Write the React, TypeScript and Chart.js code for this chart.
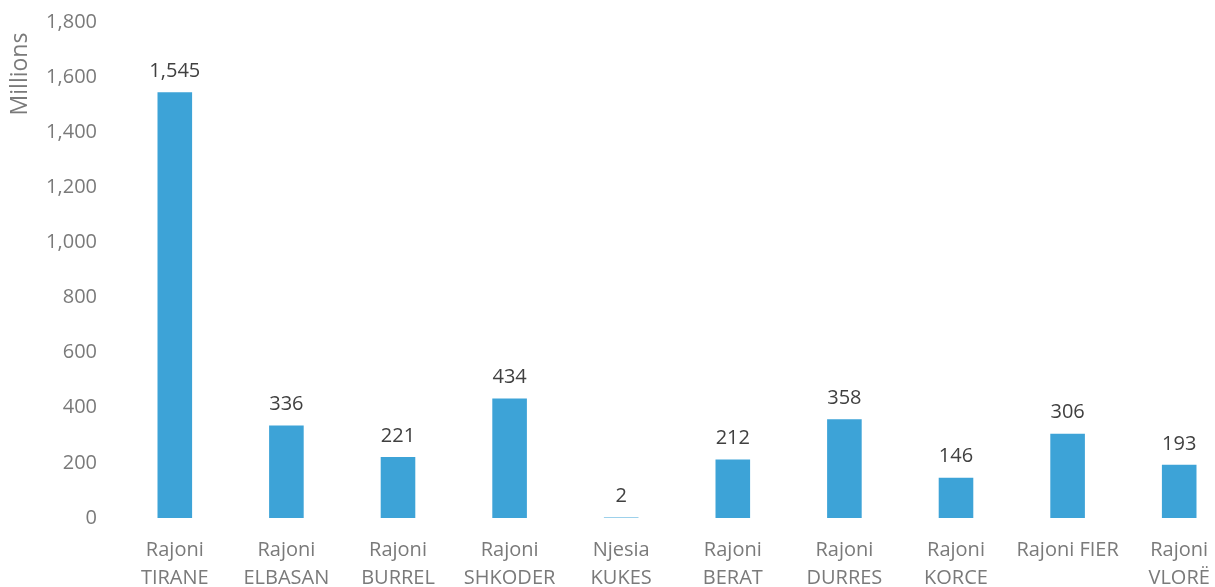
import React, { useEffect, useRef } from "react";
import { Chart, registerables } from "chart.js";

Chart.register(...registerables);

const categories: (string | string[])[] = [
  ["Rajoni", "TIRANE"],
  ["Rajoni", "ELBASAN"],
  ["Rajoni", "BURREL"],
  ["Rajoni", "SHKODER"],
  ["Njesia", "KUKES"],
  ["Rajoni", "BERAT"],
  ["Rajoni", "DURRES"],
  ["Rajoni", "KORCE"],
  "Rajoni FIER",
  ["Rajoni", "VLORË"],
];

const values: number[] = [1545, 336, 221, 434, 2, 212, 358, 146, 306, 193];

const yTicks: number[] = [0, 200, 400, 600, 800, 1000, 1200, 1400, 1600, 1800];

const axisTitle = "Millions";

const FONT = "'Open Sans', sans-serif";

const valueLabels = {
  id: "valueLabels",
  afterDatasetsDraw(chart: any) {
    const ctx = chart.ctx;
    const meta = chart.getDatasetMeta(0);
    ctx.save();
    ctx.font = `20px ${FONT}`;
    ctx.fillStyle = "#404040";
    ctx.textAlign = "center";
    ctx.textBaseline = "bottom";
    meta.data.forEach((bar: any, i: number) => {
      ctx.fillText(values[i].toLocaleString("en-US"), bar.x, bar.y - 11);
    });
    // axis title
    ctx.font = `23px ${FONT}`;
    ctx.fillStyle = "#7a7a7a";
    ctx.textBaseline = "middle";
    ctx.translate(20, chart.chartArea.top + 52);
    ctx.rotate(-Math.PI / 2);
    ctx.fillText(axisTitle, 0, 0);
    ctx.restore();
  },
};

export default function App() {
  const ref = useRef<HTMLCanvasElement>(null);
  useEffect(() => {
    if (!ref.current) return;
    const chart = new Chart(ref.current, {
      type: "bar",
      data: {
        labels: categories,
        datasets: [
          {
            data: values,
            backgroundColor: "#3DA3D7",
            barPercentage: 0.31,
            categoryPercentage: 1,
          },
        ],
      },
      options: {
        animation: false,
        responsive: false,
        maintainAspectRatio: false,
        layout: { padding: { top: 22, right: 5, left: 0, bottom: 0 } },
        plugins: { legend: { display: false }, tooltip: { enabled: false } },
        scales: {
          x: {
            grid: { display: false, drawTicks: false },
            border: { display: false },
            ticks: {
              color: "#7a7a7a",
              font: { family: FONT, size: 20, lineHeight: 1.4 },
              padding: 18,
              maxRotation: 0,
              autoSkip: false,
            },
            afterFit: (s: any) => {
              s.height = 82;
              s.paddingLeft = 0;
              s.paddingRight = 0;
            },
          },
          y: {
            min: 0,
            max: 1800,
            afterBuildTicks: (s: any) => {
              s.ticks = yTicks.map((v) => ({ value: v }));
            },
            grid: { display: false, drawTicks: false },
            border: { display: false },
            ticks: {
              color: "#7a7a7a",
              font: { family: FONT, size: 20 },
              padding: 22,
              callback: (v: any) => Number(v).toLocaleString("en-US"),
            },
            afterFit: (s: any) => {
              s.width = 119;
              s.paddingTop = 0;
              s.paddingBottom = 0;
            },
          },
        },
      },
      plugins: [valueLabels],
    });
    return () => chart.destroy();
  }, []);
  return (
    <div style={{ position: "fixed", left: 0, top: 0, width: 1240, height: 600, background: "#fff" }}>
      <canvas ref={ref} width={1240} height={600} style={{ width: 1240, height: 600 }} />
    </div>
  );
}
